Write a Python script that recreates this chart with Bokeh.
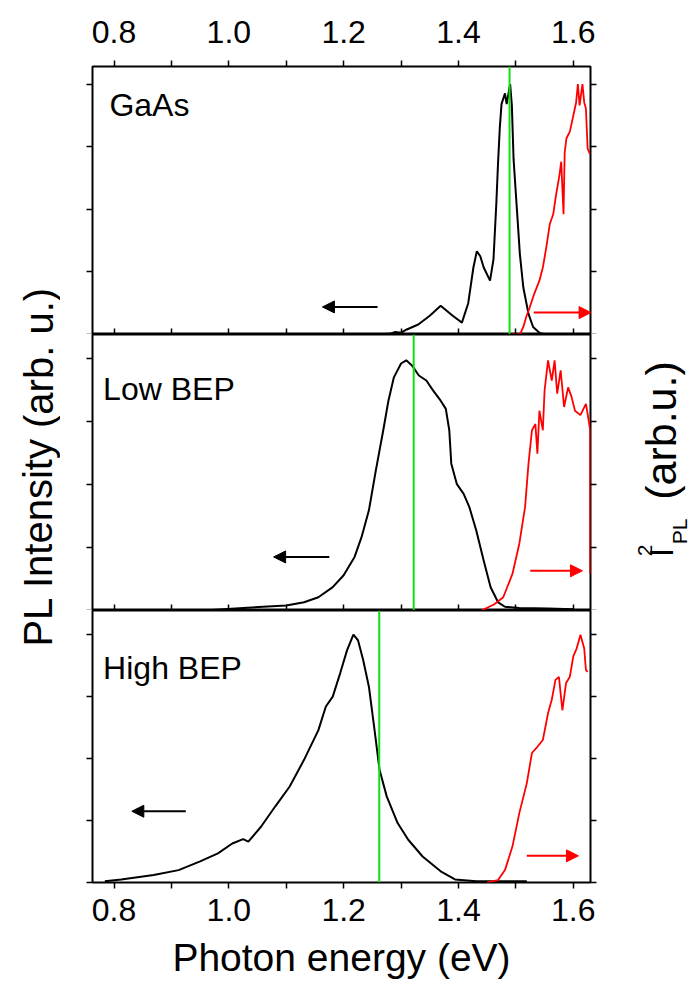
from bokeh.plotting import figure
from bokeh.layouts import column, row
from bokeh.models import (Range1d, LinearAxis, FixedTicker, Label, Arrow,
                          NormalHead, Span, PrintfTickFormatter,
                          CustomJSTickFormatter)
from bokeh.embed import file_html
from bokeh.resources import INLINE

FONT = "Liberation Sans"

# ---------------- data ----------------
x_major = [0.8, 1.0, 1.2, 1.4, 1.6]
x_minor = [0.9, 1.1, 1.3, 1.5]
y_ticks = [0, 1, 2, 3, 4]

panel_names = ["GaAs", "Low BEP", "High BEP"]
x_title = "Photon energy (eV)"
y_title_left = "PL Intensity (arb. u.)"
y_title_right = ["I", "2", "PL", "(arb.u.)"]

# GaAs
gaas_pl_e = [1.244, 1.28, 1.29, 1.30, 1.31, 1.33, 1.35, 1.369, 1.39, 1.406, 1.417,
             1.426, 1.432, 1.438, 1.444, 1.455, 1.461, 1.466, 1.469, 1.472, 1.475,
             1.481, 1.484, 1.490, 1.493, 1.496, 1.502, 1.507, 1.513, 1.522, 1.530,
             1.542, 1.555]
gaas_pl_i = [0.0, 0.01, 0.04, 0.03, 0.08, 0.16, 0.30, 0.46, 0.30, 0.19, 0.50,
             1.07, 1.33, 1.25, 1.07, 0.86, 1.20, 2.10, 2.75, 3.30, 3.68,
             3.85, 3.68, 4.00, 3.66, 2.80, 1.97, 1.28, 0.75, 0.33, 0.12,
             0.02, 0.0]
gaas_i2_e = [1.493, 1.507, 1.513, 1.518, 1.524, 1.532, 1.541, 1.547, 1.553, 1.559,
             1.565, 1.570, 1.576, 1.579, 1.583, 1.585, 1.588, 1.594, 1.599, 1.605,
             1.608, 1.611, 1.616, 1.619, 1.622, 1.625, 1.629]
gaas_i2_i = [0.0, 0.0, 0.12, 0.28, 0.43, 0.65, 0.86, 1.07, 1.39, 1.76,
             1.92, 2.23, 2.55, 2.76, 1.92, 2.90, 3.13, 3.24, 3.45, 3.71,
             4.00, 3.66, 4.00, 3.71, 3.61, 2.97, 2.88]

# Low BEP
low_pl_e = [0.956, 1.025, 1.10, 1.131, 1.156, 1.181, 1.20, 1.219, 1.231, 1.244,
            1.256, 1.269, 1.278, 1.2875, 1.30, 1.309, 1.319, 1.331, 1.344, 1.356,
            1.369, 1.378, 1.384, 1.3875, 1.397, 1.409, 1.419, 1.431, 1.444, 1.456,
            1.469, 1.481, 1.506, 1.556, 1.60]
low_pl_i = [0.0, 0.04, 0.08, 0.13, 0.21, 0.37, 0.56, 0.85, 1.16, 1.59,
            2.22, 2.86, 3.33, 3.70, 3.92, 3.97, 3.89, 3.73, 3.65, 3.49,
            3.33, 3.20, 2.86, 2.33, 2.01, 1.85, 1.64, 1.27, 0.79, 0.37,
            0.13, 0.06, 0.04, 0.03, 0.02]
low_i2_e = [1.44, 1.4625, 1.478, 1.494, 1.506, 1.516, 1.522, 1.528, 1.534, 1.5375,
            1.541, 1.547, 1.55, 1.556, 1.5625, 1.5675, 1.572, 1.578, 1.584, 1.591,
            1.597, 1.603, 1.6125, 1.622, 1.625, 1.6295, 1.6295]
low_i2_i = [0.0, 0.10, 0.21, 0.58, 1.06, 1.64, 2.33, 2.86, 2.96, 2.49,
            3.17, 2.86, 3.49, 3.97, 3.65, 3.97, 3.44, 3.81, 3.23, 3.54,
            3.39, 3.17, 3.10, 3.28, 3.12, 2.86, 0.58]

# High BEP
high_pl_e = [0.784, 0.8125, 0.869, 0.9125, 0.95, 0.981, 1.006, 1.025, 1.034, 1.056,
             1.081, 1.106, 1.131, 1.156, 1.169, 1.181, 1.194, 1.206, 1.217, 1.225,
             1.234, 1.244, 1.253, 1.2625, 1.275, 1.294, 1.3125, 1.3375, 1.369, 1.394,
             1.431, 1.519]
high_pl_i = [0.02, 0.05, 0.12, 0.20, 0.34, 0.47, 0.63, 0.70, 0.66, 0.90,
             1.23, 1.55, 1.98, 2.46, 2.84, 3.00, 3.38, 3.75, 4.00, 3.91,
             3.59, 3.16, 2.52, 1.82, 1.39, 0.96, 0.69, 0.42, 0.18, 0.05,
             0.02, 0.02]
high_i2_e = [1.45, 1.469, 1.481, 1.494, 1.506, 1.519, 1.528, 1.5375, 1.547, 1.556,
             1.5625, 1.569, 1.575, 1.581, 1.5875, 1.594, 1.60, 1.606, 1.6125, 1.619,
             1.622, 1.625]
high_i2_i = [0.0, 0.04, 0.20, 0.58, 1.12, 1.60, 2.09, 2.19, 2.30, 2.73,
             2.95, 3.27, 3.32, 2.78, 3.22, 3.32, 3.65, 3.78, 4.00, 3.78,
             3.43, 3.40]

gap_energy = [1.489, 1.322, 1.262]

# arrows: start / end energy and level, PL (pointing left) and I^2 (pointing right)
pl_arrow_start = [1.259, 1.175, 0.925]
pl_arrow_end = [1.163, 1.078, 0.831]
pl_arrow_level = [0.44, 0.85, 1.15]
i2_arrow_start = [1.531, 1.525, 1.519]
i2_arrow_end = [1.631, 1.616, 1.609]
i2_arrow_level = [0.35, 0.63, 0.43]

label_pos_e = [0.792, 0.781, 0.781]
label_pos_i = [3.67, 3.51, 3.47]

pl_e = [gaas_pl_e, low_pl_e, high_pl_e]
pl_i = [gaas_pl_i, low_pl_i, high_pl_i]
i2_e = [gaas_i2_e, low_i2_e, high_i2_e]
i2_i = [gaas_i2_i, low_i2_i, high_i2_i]

# ---------------- layout ----------------
X_RANGE = (0.7625, 1.63)
y_tops = [4.28, 4.38, 4.39]
frame_h = [268, 276, 272]
border_top = [66, 0, 0]
border_bottom = [0, 0, 100]
LW = 60          # left title strip
RW = 90          # right title strip
BL, BR = 32, 12  # borders of the panels themselves
FW = 498         # frame width
W = BL + FW + BR
H = sum(frame_h) + border_top[0] + border_bottom[2]

blank = CustomJSTickFormatter(code="return ''")


def x_axis(with_labels, tick_in, tick_out):
    ax = LinearAxis(ticker=FixedTicker(ticks=x_major, minor_ticks=x_minor))
    ax.axis_line_color = None
    ax.major_tick_in = tick_in
    ax.major_tick_out = tick_out
    ax.minor_tick_in = tick_in
    ax.minor_tick_out = tick_out
    ax.major_tick_line_width = 1.5
    ax.minor_tick_line_width = 1.5
    ax.major_tick_line_color = "black"
    ax.minor_tick_line_color = "black"
    if with_labels:
        ax.formatter = PrintfTickFormatter(format="%.1f")
        ax.major_label_text_font = FONT
        ax.major_label_text_font_size = "32px"
        ax.major_label_text_color = "black"
        ax.major_label_standoff = 10
    else:
        ax.formatter = blank
        ax.major_label_standoff = 0
    return ax


def y_axis():
    ax = LinearAxis(ticker=FixedTicker(ticks=y_ticks, minor_ticks=[]),
                    formatter=blank)
    ax.axis_line_color = None
    ax.major_tick_in = 0
    ax.major_tick_out = 6
    ax.major_tick_line_width = 1.5
    ax.major_tick_line_color = "black"
    ax.minor_tick_line_color = None
    ax.major_label_standoff = 0
    return ax


panels = []
for k in range(3):
    p = figure(width=W, height=frame_h[k] + border_top[k] + border_bottom[k],
               x_range=Range1d(*X_RANGE), y_range=Range1d(0, y_tops[k]),
               x_axis_type=None, y_axis_type=None,
               toolbar_location=None, output_backend="svg",
               min_border_left=BL, min_border_right=BR,
               min_border_top=border_top[k], min_border_bottom=border_bottom[k])
    p.outline_line_color = "black"
    p.outline_line_width = 2
    p.xgrid.visible = False
    p.ygrid.visible = False

    if k == 0:
        tx = x_axis(True, 0, 6)
        tx.major_label_standoff = 18
        p.add_layout(tx, "above")
    if k < 2:
        p.add_layout(x_axis(False, 6, 0), "below")
    else:
        bx = x_axis(True, 0, 6)
        bx.axis_label = x_title
        bx.axis_label_text_font = FONT
        bx.axis_label_text_font_size = "39px"
        bx.axis_label_text_font_style = "normal"
        bx.axis_label_text_color = "black"
        bx.axis_label_standoff = 12
        p.add_layout(bx, "below")

    p.add_layout(y_axis(), "left")
    p.add_layout(y_axis(), "right")

    p.add_layout(Span(location=gap_energy[k], dimension="height",
                      line_color="#10e010", line_width=2))
    p.line(pl_e[k], pl_i[k], line_color="black", line_width=2)
    p.line(i2_e[k], i2_i[k], line_color="#ff0000", line_width=1.8)

    p.add_layout(Arrow(x_start=pl_arrow_start[k], y_start=pl_arrow_level[k],
                       x_end=pl_arrow_end[k], y_end=pl_arrow_level[k],
                       line_color="black", line_width=2,
                       end=NormalHead(size=12, fill_color="black", line_color="black")))
    p.add_layout(Arrow(x_start=i2_arrow_start[k], y_start=i2_arrow_level[k],
                       x_end=i2_arrow_end[k], y_end=i2_arrow_level[k],
                       line_color="#ff0000", line_width=2,
                       end=NormalHead(size=12, fill_color="#ff0000", line_color="#ff0000")))

    p.add_layout(Label(x=label_pos_e[k], y=label_pos_i[k], text=panel_names[k],
                       text_font=FONT, text_font_size="32px", text_color="black",
                       text_align="left", text_baseline="middle"))
    panels.append(p)


def strip(width):
    f = figure(width=width, height=H, x_range=Range1d(0, width),
               y_range=Range1d(0, H), x_axis_type=None, y_axis_type=None,
               toolbar_location=None, output_backend="svg",
               min_border=0)
    f.outline_line_color = None
    f.xgrid.visible = False
    f.ygrid.visible = False
    return f


ROT = 1.5707963

left = strip(LW)
left.add_layout(Label(x=38, y=H - 466, x_units="screen", y_units="screen",
                      text=y_title_left, angle=ROT, text_font=FONT,
                      text_font_size="40px", text_color="black",
                      text_align="center", text_baseline="middle"))

right = strip(RW)
# centres of the pieces inside the right strip
# (x from its left edge, y upward from its bottom)
r_cx = [58, 42, 77, 58]
r_cy = [H - 552, H - 550, H - 531, H - 430]
r_size = ["34px", "21px", "21px", "43px"]
for t, cx, cy, sz in zip(y_title_right, r_cx, r_cy, r_size):
    right.add_layout(Label(x=cx, y=cy, x_units="screen", y_units="screen",
                           text=t, angle=ROT, text_font=FONT,
                           text_font_size=sz, text_color="black",
                           text_align="center", text_baseline="middle"))

layout = row(left, column(*panels, spacing=0), right, spacing=0)
open("out.html", "w").write(file_html(layout, INLINE))
